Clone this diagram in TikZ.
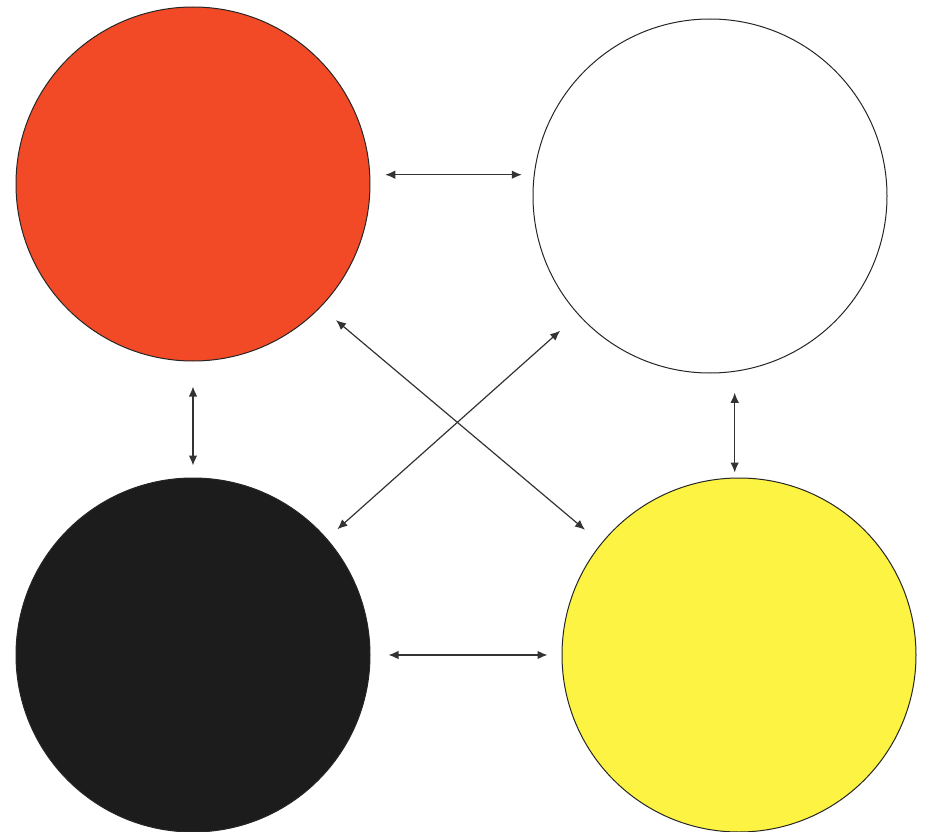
\documentclass[tikz,border=0pt]{standalone}
\usepackage{tikz}
\usetikzlibrary{arrows.meta, backgrounds}

\definecolor{ballred}{HTML}{F24A26}
\definecolor{ballyellow}{HTML}{FDF343}
\definecolor{ballblack}{HTML}{1C1C1C}
\definecolor{linkgray}{HTML}{333333}

\begin{document}
\begin{tikzpicture}
  [
    x = 1pt, y = -1pt,
    ball/.style = {draw = black!85, circle, line width = 1pt,
                   minimum size = 354pt, inner sep = 0pt},
    link/.style = {draw = linkgray, line width = 1.2pt,
                   {Latex[length=10pt, width=8.5pt]}-{Latex[length=10pt, width=8.5pt]}}
  ]
  \useasboundingbox (0,0) rectangle (930,832);
  \node [ball, fill = ballred]    (Red)    at (193,184) {};
  \node [ball, fill = white]      (White)  at (710,196) {};
  \node [ball, fill = ballblack]  (Black)  at (193,655) {};
  \node [ball, fill = ballyellow] (Yellow) at (739,655) {};

  % horizontal and vertical links
  \draw [link, shorten <= 15pt, shorten >= 12pt] (Red.3) -- (Red.3 -| White.173.2);
  \draw [link, shorten <= 18pt, shorten >= 14pt] (Black.east) -- (Yellow.west);
  \draw [link, shorten <= 25pt, shorten >= 12pt] (Red.south) -- (Black.north);
  \draw [link, shorten <= 21pt, shorten >= 5pt]  (White.-82.6) -- (White.-82.6 |- Yellow.north);
  % diagonal links
  \draw [link, shorten <= 20pt, shorten >= 21pt] (Red.-44.4) -- (Yellow.141.5);
  \draw [link, shorten <= 24pt, shorten >= 14pt] (White.222.8) -- (Black.41.8);
\end{tikzpicture}
\end{document}
